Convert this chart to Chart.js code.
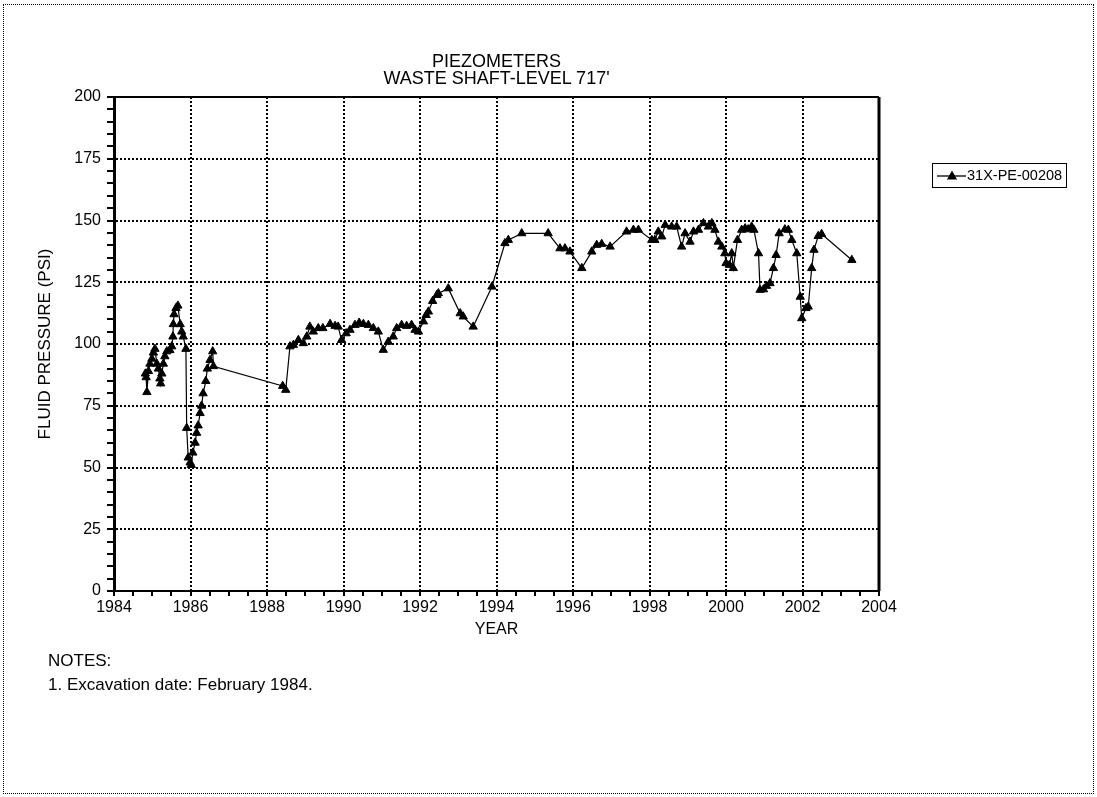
<!DOCTYPE html>
<html>
<head>
<meta charset="utf-8">
<script src="https://cdn.jsdelivr.net/npm/chart.js@4.4.1/dist/chart.umd.min.js"></script>
<style>
    body { margin: 0; background: #fff; font-family: "Liberation Sans", Arial, sans-serif; color: #000; }
    #wrap { position: relative; width: 1097px; height: 797px; }
    #frame { position: absolute; left: 3px; top: 4px; right: 3px; bottom: 3px; border: 1px dotted #000; }
    #chart { position: absolute; left: 0; top: 0; }
    .titulo { position: absolute; left: 114px; width: 765px; top: 53px; text-align: center; font-size: 18px; line-height: 17px; }
    .leyenda { position: absolute; left: 932px; top: 163px; width: 133px; height: 23px; border: 1px solid #000;
               font-size: 14.5px; line-height: 23px; white-space: nowrap; }
    .leyenda svg { position: absolute; left: 4px; top: 5px; }
    .leyenda span { position: absolute; left: 34px; top: 0; }
    .notas { position: absolute; left: 48px; top: 649px; font-size: 17px; line-height: 24px; }
</style>
</head>
<body>
<div id="wrap">
    <canvas id="chart" width="1097" height="797"></canvas>
    <div class="titulo">PIEZOMETERS<br>WASTE SHAFT-LEVEL 717'</div>
    <div class="leyenda">
        <svg width="30" height="13"><line x1="0" y1="7" x2="29" y2="7" stroke="#000" stroke-width="1.3"/><polygon points="15,1.5 20,10.5 10,10.5" fill="#000"/></svg>
        <span>31X-PE-00208</span>
    </div>
    <div class="notas">NOTES:<br>1. Excavation date: February 1984.</div>
    <div id="frame"></div>
</div>
<script>
// datos
const serieNombre = '31X-PE-00208';
const anios = [
    1984.82, 1984.84, 1984.86, 1984.90, 1984.94, 1984.99, 1985.03, 1985.07, 1985.12, 1985.16,
    1985.20, 1985.22, 1985.25, 1985.29, 1985.33, 1985.38, 1985.46, 1985.51, 1985.54, 1985.55,
    1985.57, 1985.62, 1985.67, 1985.73, 1985.77, 1985.81, 1985.88, 1985.90, 1985.94, 1985.99,
    1986.02, 1986.06, 1986.12, 1986.16, 1986.20, 1986.25, 1986.29, 1986.33, 1986.40, 1986.44,
    1986.51, 1986.58, 1986.60,
    1988.41, 1988.49, 1988.60, 1988.69, 1988.82, 1988.95, 1989.04, 1989.12, 1989.21, 1989.34,
    1989.46, 1989.65, 1989.78, 1989.86, 1989.95, 1990.07, 1990.17, 1990.30, 1990.41, 1990.52,
    1990.65, 1990.78, 1990.91, 1991.04, 1991.17, 1991.30, 1991.39, 1991.52, 1991.65, 1991.78,
    1991.87, 1991.96, 1992.09, 1992.16, 1992.22, 1992.33, 1992.44, 1992.48, 1992.74, 1993.05,
    1993.13, 1993.39, 1993.88, 1994.22, 1994.31, 1994.66, 1995.35, 1995.66, 1995.79, 1995.92,
    1996.23, 1996.49, 1996.62, 1996.75, 1996.97, 1997.40, 1997.58, 1997.71, 1998.06, 1998.14,
    1998.23, 1998.32, 1998.41, 1998.58, 1998.71, 1998.84, 1998.93, 1999.06, 1999.15, 1999.28,
    1999.41, 1999.54, 1999.63, 1999.71, 1999.80, 1999.89, 1999.97, 2000.00, 2000.09, 2000.15,
    2000.19, 2000.30, 2000.41, 2000.50, 2000.58, 2000.67, 2000.73, 2000.85, 2000.89, 2000.98,
    2001.06, 2001.15, 2001.24, 2001.31, 2001.39, 2001.54, 2001.63, 2001.72, 2001.85, 2001.94,
    2001.98, 2002.09, 2002.15, 2002.24, 2002.30, 2002.41, 2002.50, 2003.29
];
const presion = [
    88, 86.5, 80.5, 89, 92, 94, 96.5, 98, 92, 90,
    86, 84, 88, 92, 95, 97, 97.5, 99, 103, 108,
    112, 114.5, 115.5, 108, 105, 103, 98, 66, 54, 52,
    51, 56, 60, 64, 67, 72, 75, 80, 85, 90,
    93.5, 97, 91,
    83, 81.4, 99, 99.6, 101.6, 100.3, 103, 107, 105, 106.4,
    106.4, 108.1, 107.3, 107, 101.6, 104.3, 105.7, 107.7, 108.6, 108.1,
    107.7, 106.4, 105, 97.6, 100.9, 103, 106.4, 107.7, 107.3, 107.7,
    105.7, 105, 109.1, 111.7, 113.1, 117.4, 119.8, 120.5, 122.5, 112.4,
    111.1, 107, 123.2, 140.8, 142.1, 144.8, 144.8, 138.7, 138.7, 137.4,
    130.7, 137.4, 140.1, 140.5, 139.4, 145.5, 146.2, 146.2, 142.1, 142.1,
    145.5, 143.5, 148.2, 147.5, 147.5, 139.4, 144.8, 141.4, 145.5, 146.2,
    148.9, 147.5, 148.9, 146.2, 141.4, 139.4, 136.7, 132.7, 132, 136.7,
    130.7, 142.1, 146.2, 146.8, 146.4, 147.5, 146.2, 136.7, 121.9, 122.1,
    123.5, 124.6, 130.7, 136, 144.8, 146.4, 146.2, 142.1, 136.7, 119.1,
    110.4, 114.5, 115.1, 130.7, 138.1, 143.7, 144.5, 134
];
// ejes
const xMin = 1984, xMax = 2004, xPasoEtiqueta = 2, xPasoMenor = 0.5;
const yMin = 0, yMax = 200, yPasoEtiqueta = 25, yPasoMenor = 5;

const puntos = anios.map((a, i) => ({ x: a, y: presion[i] }));
const fuente = '"Liberation Sans", Arial, sans-serif';

// marco negro alrededor del area del grafico
const marco = {
    id: 'marco',
    afterDraw(chart) {
        const { ctx, chartArea: a } = chart;
        ctx.save();
        ctx.strokeStyle = '#000';
        ctx.lineWidth = 2;
        ctx.beginPath();
        ctx.moveTo(a.left, a.top);
        ctx.lineTo(a.right, a.top);
        ctx.stroke();
        ctx.lineWidth = 3;
        ctx.beginPath();
        ctx.moveTo(a.right, a.top);
        ctx.lineTo(a.right, a.bottom);
        ctx.stroke();
        ctx.restore();
    }
};

const esMayor = (v, paso) => Math.abs(v / paso - Math.round(v / paso)) < 1e-6;

new Chart(document.getElementById('chart'), {
    type: 'line',
    data: {
        datasets: [{
            label: serieNombre,
            data: puntos,
            borderColor: '#000',
            borderWidth: 1.2,
            backgroundColor: '#000',
            pointStyle: 'triangle',
            pointRadius: 4.8,
            pointBorderWidth: 1,
            pointBackgroundColor: '#000',
            pointBorderColor: '#000',
            tension: 0
        }]
    },
    options: {
        responsive: false,
        animation: false,
        layout: { padding: { left: 28, top: 97, right: 218, bottom: 156 } },
        plugins: {
            legend: { display: false },
            tooltip: { enabled: false }
        },
        scales: {
            x: {
                type: 'linear',
                min: xMin,
                max: xMax,
                afterFit: (s) => { s.height = 50; },
                afterBuildTicks: (s) => {
                    s.ticks = [];
                    for (let v = xMin; v <= xMax + 1e-9; v += xPasoMenor) s.ticks.push({ value: v });
                },
                ticks: {
                    autoSkip: false,
                    maxRotation: 0,
                    padding: 2,
                    color: '#000',
                    font: { family: fuente, size: 16 },
                    callback: (v) => esMayor(v, xPasoEtiqueta) ? String(v) : ''
                },
                grid: {
                    color: (c) => c.tick && esMayor(c.tick.value, xPasoEtiqueta) ? '#000' : 'rgba(0,0,0,0)',
                    lineWidth: 2,
                    tickColor: '#000',
                    tickLength: 5,
                    tickWidth: 2
                },
                border: { color: '#000', width: 2, dash: [2, 2] },
                title: {
                    display: true,
                    text: 'YEAR',
                    color: '#000',
                    font: { family: fuente, size: 16 },
                    padding: { top: 0, bottom: 2 }
                }
            },
            y: {
                type: 'linear',
                min: yMin,
                max: yMax,
                afterFit: (s) => { s.width = 86; },
                afterBuildTicks: (s) => {
                    s.ticks = [];
                    for (let v = yMin; v <= yMax + 1e-9; v += yPasoMenor) s.ticks.push({ value: v });
                },
                ticks: {
                    autoSkip: false,
                    padding: 6,
                    color: '#000',
                    font: { family: fuente, size: 16 },
                    callback: (v) => esMayor(v, yPasoEtiqueta) ? String(v) : ''
                },
                grid: {
                    color: (c) => c.tick && esMayor(c.tick.value, yPasoEtiqueta) ? '#000' : 'rgba(0,0,0,0)',
                    lineWidth: 2,
                    tickColor: '#000',
                    tickLength: 7,
                    tickWidth: 2
                },
                border: { color: '#000', width: 3, dash: [2, 2] },
                title: {
                    display: true,
                    text: 'FLUID PRESSURE (PSI)',
                    color: '#000',
                    font: { family: fuente, size: 17 },
                    padding: { top: 7, bottom: 0 }
                }
            }
        }
    },
    plugins: [marco]
});
</script>
</body>
</html>
